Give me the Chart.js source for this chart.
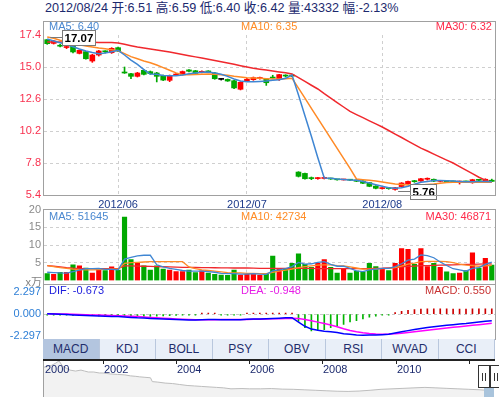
<!DOCTYPE html>
<html><head><meta charset="utf-8">
<script src="https://cdn.jsdelivr.net/npm/chart.js@4.4.1/dist/chart.umd.min.js"></script>
<style>
html,body{margin:0;padding:0;background:#fff}
body{position:relative;width:499px;height:397px;overflow:hidden;font-family:"Liberation Sans",Arial,"Noto Sans CJK SC",sans-serif}
canvas{position:absolute;left:0}
.lb{position:absolute;white-space:nowrap;font-size:11px;line-height:12px}
.fr{position:absolute;box-sizing:border-box;border:1px solid #a0a0a0;pointer-events:none}
#tabs{position:absolute;left:43px;top:339px;width:452px;height:20px;display:flex;background:#e9eff8}
#tabs div{flex:0 0 56.5px;box-sizing:border-box;border-right:1px solid #b9c7dd;text-align:center;font-size:12px;line-height:20px;color:#1f2d6b}
#tabs div.on{background:#b3c5df}
.hd{position:absolute;top:365px;height:23px;box-sizing:border-box;border:1px solid #333;background:#fff}
.hd i{position:absolute;top:7px;width:1px;height:8px;background:#333}
</style></head><body>
<div class="lb" style="left:45px;top:1px;font-size:12.6px;line-height:14px;color:#1c2a6e">2012/08/24 开:6.51 高:6.59 低:6.40 收:6.42 量:43332 幅:-2.13%</div>

<canvas id="cPrice" width="499" height="215" style="top:0"></canvas>
<canvas id="cVol" width="499" height="90" style="top:200px"></canvas>
<canvas id="cMacd" width="499" height="66" style="top:280px"></canvas>
<canvas id="cNav" width="499" height="42" style="top:355px"></canvas>

<div class="fr" style="left:43px;top:21px;width:453px;height:175px"></div>
<div class="fr" style="left:43px;top:209px;width:453px;height:76px"></div>
<div class="fr" style="left:43px;top:284px;width:453px;height:56px"></div>

<div class="lb" style="left:49px;top:20px;color:#4a88d0">MA5: 6.40</div>
<div class="lb" style="left:241px;top:20px;color:#ff8c26">MA10: 6.35</div>
<div class="lb" style="right:7px;top:20px;color:#ff2a4a">MA30: 6.32</div>

<div class="lb" style="left:49px;top:210px;color:#4a88d0">MA5: 51645</div>
<div class="lb" style="left:241px;top:210px;color:#ff8c26">MA10: 42734</div>
<div class="lb" style="right:8px;top:210px;color:#ff2a4a">MA30: 46871</div>
<div class="lb" style="right:457px;top:276px;color:#808080">x万</div>

<div class="lb" style="left:49px;top:284px;color:#1a1adc">DIF: -0.673</div>
<div class="lb" style="left:241px;top:284px;color:#e61ee6">DEA: -0.948</div>
<div class="lb" style="right:8px;top:284px;color:#c83232">MACD: 0.550</div>

<div id="tabs"><div class="on">MACD</div><div>KDJ</div><div>BOLL</div><div>PSY</div><div>OBV</div><div>RSI</div><div>WVAD</div><div>CCI</div></div>

<div style="position:absolute;left:484px;top:386px;width:10px;height:11px;background:#a9c4dc"></div>
<div class="hd" style="left:478px;width:12px"><i style="left:3px"></i><i style="left:6px"></i></div>
<div class="hd" style="left:490px;width:12px"><i style="left:3px"></i><i style="left:6px"></i></div>

<script>
const dates = [
"2012/05/17","2012/05/18","2012/05/21","2012/05/22","2012/05/23","2012/05/24","2012/05/25","2012/05/28","2012/05/29","2012/05/30","2012/05/31",
"2012/06/01","2012/06/04","2012/06/05","2012/06/06","2012/06/07","2012/06/08","2012/06/11","2012/06/12","2012/06/13","2012/06/14","2012/06/15","2012/06/18","2012/06/19","2012/06/20","2012/06/21","2012/06/25","2012/06/26","2012/06/27","2012/06/28","2012/06/29",
"2012/07/02","2012/07/03","2012/07/04","2012/07/05","2012/07/06","2012/07/09","2012/07/10","2012/07/11","2012/07/13","2012/07/16","2012/07/17","2012/07/18","2012/07/19","2012/07/20","2012/07/23","2012/07/24","2012/07/25","2012/07/26","2012/07/27","2012/07/30","2012/07/31",
"2012/08/01","2012/08/02","2012/08/03","2012/08/06","2012/08/07","2012/08/08","2012/08/09","2012/08/10","2012/08/13","2012/08/14","2012/08/15","2012/08/16","2012/08/17","2012/08/20","2012/08/21","2012/08/22","2012/08/23","2012/08/24"];

const openP = [17.05,16.77,16.62,16.46,16.58,16.02,16.15,15.45,15.90,16.17,
16.07,16.45,14.56,14.50,14.30,14.75,14.65,14.55,14.37,14.00,
14.40,14.45,14.78,14.72,14.60,14.66,14.55,14.07,14.07,13.97,
13.33,13.97,14.05,14.14,14.10,14.18,14.05,14.35,14.35,7.12,
7.02,6.67,6.63,6.64,6.63,6.57,6.53,6.53,6.52,6.45,
6.33,6.07,5.88,5.90,5.82,6.03,6.25,6.42,6.45,6.58,
6.58,6.42,6.45,6.42,6.37,6.40,6.32,6.53,6.42,6.51];
const closeP = [16.75,16.95,16.56,16.50,16.13,16.25,15.62,15.90,16.20,16.14,
16.40,16.20,14.55,14.30,14.55,14.45,14.50,14.30,14.02,14.37,
14.44,14.66,14.68,14.52,14.66,14.63,14.12,14.07,13.95,13.43,
13.85,14.08,14.20,14.18,13.82,14.17,14.43,14.32,14.32,6.80,
6.62,6.63,6.66,6.69,6.60,6.54,6.55,6.51,6.43,6.28,
6.05,5.90,5.92,5.88,5.95,6.30,6.42,6.40,6.62,6.60,
6.44,6.45,6.40,6.38,6.39,6.38,6.55,6.50,6.58,6.42];
const highP = [17.07,17.00,16.70,16.60,16.62,16.28,16.18,15.95,16.25,16.22,
16.45,16.50,15.00,14.52,14.60,14.80,14.70,14.60,14.40,14.40,
14.50,14.70,14.80,14.75,14.72,14.72,14.60,14.12,14.10,14.00,
13.90,14.15,14.25,14.25,14.12,14.38,14.45,14.42,14.42,7.15,
7.05,6.75,6.72,6.75,6.66,6.58,6.58,6.55,6.55,6.48,
6.35,6.10,5.95,5.93,5.98,6.33,6.45,6.50,6.65,6.68,
6.60,6.50,6.48,6.45,6.45,6.45,6.58,6.58,6.62,6.59];
const lowP = [16.70,16.72,16.50,16.38,16.05,15.98,15.58,15.35,15.82,16.05,
16.02,16.15,14.52,14.12,14.25,14.40,14.45,13.88,13.98,13.90,
14.35,14.40,14.64,14.48,14.55,14.58,14.08,14.02,13.92,13.38,
13.28,13.92,14.00,14.08,13.62,14.17,14.00,14.25,14.28,6.75,
6.58,6.55,6.58,6.60,6.57,6.52,6.52,6.48,6.40,6.25,
6.02,5.86,5.84,5.83,5.76,6.00,6.20,6.35,6.42,6.52,
6.40,6.38,6.37,6.35,6.22,6.33,6.28,6.45,6.38,6.40];

const ma5 = [17.10,16.95,16.82,16.68,16.52,16.35,16.20,16.08,16.00,16.05,
16.15,16.25,15.90,15.52,15.20,14.81,14.47,14.45,14.37,14.35,
14.35,14.40,14.50,14.55,14.60,14.62,14.55,14.45,14.30,14.10,
13.95,13.90,13.90,13.92,13.95,14.00,14.05,14.15,14.40,12.90,
11.35,9.80,8.20,6.68,6.65,6.60,6.57,6.53,6.50,6.42,
6.30,6.17,6.05,5.95,5.90,5.95,6.05,6.20,6.35,6.42,
6.48,6.48,6.47,6.45,6.42,6.40,6.40,6.42,6.42,6.40];
const ma10 = [17.25,17.15,17.00,16.90,16.78,16.67,16.58,16.50,16.42,16.36,
16.30,16.22,16.00,15.78,15.62,15.45,15.32,15.15,14.95,14.76,
14.56,14.42,14.42,14.43,14.45,14.48,14.45,14.42,14.38,14.30,
14.25,14.20,14.17,14.15,14.12,14.10,14.10,14.12,14.15,13.42,
12.66,11.90,11.15,10.40,9.65,8.90,8.15,7.40,6.60,6.55,
6.50,6.45,6.38,6.30,6.22,6.18,6.15,6.15,6.15,6.18,
6.22,6.28,6.33,6.35,6.35,6.35,6.35,6.35,6.35,6.35];
const ma30 = [16.88,16.88,16.87,16.87,16.86,16.86,16.85,16.85,16.84,16.84,
16.83,16.80,16.70,16.60,16.50,16.42,16.35,16.27,16.20,16.12,
16.03,15.94,15.85,15.76,15.67,15.58,15.49,15.40,15.30,15.20,
15.10,15.00,14.90,14.83,14.77,14.70,14.63,14.57,14.48,14.20,
13.92,13.63,13.35,13.00,12.67,12.33,12.00,11.67,11.43,11.20,
10.96,10.73,10.50,10.24,9.97,9.71,9.44,9.18,8.92,8.70,
8.47,8.24,8.02,7.80,7.53,7.27,7.00,6.73,6.52,6.35];

// volume in units of 10,000 shares (万)
const volume = [1.9,1.7,2.3,2.3,4.4,4.1,3.5,2.1,3.2,2.8,
3.8,2.9,17.9,5.9,4.9,4.1,2.9,4.1,3.2,2.9,
2.5,2.5,2.9,2.2,2.7,2.1,1.7,1.5,1.4,2.9,
1.5,1.7,1.8,1.4,1.7,6.9,3.3,3.3,4.8,7.5,
4.55,3.66,4.8,5.9,3.66,2.1,3.2,2.1,2.6,2.4,
4.8,3.9,3.2,2.8,4.8,9.0,8.8,4.55,9.0,3.9,
4.8,3.66,2.4,1.9,2.1,2.8,7.8,3.5,6.2,4.3332];
const volMa5 = [2.3,2.2,2.1,2.05,2.5,2.9,3.3,3.3,3.4,3.1,
3.1,3.0,6.0,6.5,6.9,7.1,7.1,4.4,3.8,3.4,
3.1,2.8,2.6,2.6,2.6,2.5,2.3,2.0,1.9,1.9,
1.8,1.8,1.9,1.75,1.7,2.7,3.0,3.3,3.9,5.1,
4.6,4.7,5.1,5.3,4.5,4.0,4.0,3.4,2.7,2.5,
3.0,3.2,3.4,3.4,3.9,4.7,5.7,6.0,7.2,7.0,
6.4,5.2,4.2,3.3,3.0,2.6,3.4,3.6,4.5,5.16];
const volMa10 = [4.2,3.9,3.6,3.4,3.2,3.05,3.0,3.0,3.05,3.1,
3.15,3.2,4.8,5.0,5.1,5.2,5.3,5.3,5.3,5.3,
5.3,5.3,3.8,3.3,3.0,2.8,2.6,2.4,2.2,2.15,
2.1,2.0,1.95,1.9,1.9,2.3,2.6,2.9,3.2,3.6,
3.9,4.1,4.3,4.4,4.4,4.2,4.1,3.8,3.5,3.2,
3.2,3.2,3.3,3.4,3.6,4.0,4.6,4.9,5.3,5.4,
5.4,5.4,5.3,5.0,4.6,4.3,4.2,4.0,4.1,4.27];
const volMa30 = [4.2,4.0,3.8,3.6,3.45,3.35,3.3,3.3,3.3,3.3,
3.3,3.3,4.1,4.1,4.05,4.0,3.95,3.9,3.85,3.8,
3.75,3.7,3.68,3.65,3.62,3.6,3.58,3.55,3.52,3.5,
3.5,3.5,3.45,3.4,3.4,3.4,3.4,3.4,3.4,3.4,
3.4,3.4,3.35,3.3,3.3,3.3,3.3,3.3,3.3,3.3,
3.35,3.4,3.45,3.55,3.65,3.8,3.95,4.05,4.15,4.2,
4.25,4.3,4.35,4.4,4.45,4.5,4.55,4.6,4.65,4.69];

const dif = [0.04,0.015,-0.01,-0.04,-0.07,-0.10,-0.125,-0.15,-0.18,-0.20,
-0.23,-0.25,-0.29,-0.335,-0.375,-0.40,-0.44,-0.47,-0.50,-0.525,
-0.55,-0.57,-0.59,-0.595,-0.565,-0.555,-0.56,-0.57,-0.57,-0.575,
-0.565,-0.525,-0.505,-0.49,-0.465,-0.44,-0.41,-0.38,-0.36,-0.825,
-1.25,-1.54,-1.67,-1.77,-1.82,-1.90,-2.03,-2.08,-2.16,-2.17,
-2.16,-2.15,-2.12,-2.085,-1.95,-1.82,-1.70,-1.58,-1.48,-1.385,
-1.30,-1.225,-1.155,-1.09,-1.02,-0.955,-0.875,-0.805,-0.735,-0.673];
const dea = [0.05,0.04,0.03,0.01,-0.01,-0.03,-0.05,-0.07,-0.09,-0.11,
-0.13,-0.15,-0.18,-0.21,-0.25,-0.29,-0.33,-0.37,-0.41,-0.45,
-0.49,-0.52,-0.55,-0.57,-0.58,-0.58,-0.57,-0.56,-0.55,-0.55,
-0.55,-0.54,-0.53,-0.52,-0.50,-0.48,-0.46,-0.44,-0.42,-0.45,
-0.55,-0.68,-0.82,-0.97,-1.12,-1.30,-1.50,-1.68,-1.82,-1.93,
-2.00,-2.05,-2.07,-2.06,-2.03,-1.97,-1.90,-1.82,-1.74,-1.66,
-1.58,-1.50,-1.43,-1.36,-1.29,-1.22,-1.15,-1.08,-1.01,-0.948];
const macdHist = [-0.02,-0.05,-0.08,-0.10,-0.12,-0.14,-0.15,-0.16,-0.18,-0.18,
-0.20,-0.20,-0.22,-0.25,-0.25,-0.22,-0.22,-0.20,-0.18,-0.15,
-0.12,-0.10,-0.08,-0.05,0.03,0.05,0.02,-0.02,-0.04,-0.05,
-0.03,0.03,0.05,0.06,0.07,0.08,0.10,0.12,0.12,-0.75,
-1.40,-1.72,-1.70,-1.60,-1.40,-1.20,-1.07,-0.80,-0.68,-0.48,
-0.32,-0.20,-0.10,-0.05,0.16,0.30,0.40,0.48,0.52,0.55,
0.56,0.55,0.55,0.54,0.54,0.53,0.55,0.55,0.55,0.55];

const priceTicks = [5.4, 7.8, 10.2, 12.6, 15.0, 17.4];
const volTicks = [5, 10, 15, 20];
const macdTicks = [-2.297, 0, 2.297];

// long-history navigator (relative price level)
const navYears = [2000.39,2000.5,2000.6,2000.7,2000.8,2000.9,2001.0,2001.1,2001.25,2001.4,2001.5,2001.6,2001.75,2001.9,2002.0,2002.2,2002.4,2002.6,2002.75,2002.9,2003.0,2003.15,2003.3,2003.35,2003.5,2003.7,2003.9,2004.1,2004.3,2004.5,2004.7,2004.9,2005.1,2005.3,2005.5,2005.8,2006.0,2006.3,2006.6,2006.9,2007.2,2007.5,2007.8,2008.1,2008.4,2008.7,2009.0,2009.3,2009.6,2009.9,2010.2,2010.5,2010.8,2011.1,2011.4,2011.7,2012.0,2012.3,2012.5,2012.66];
const navValues = [29,30,31,33,35.5,30,28,26,25,26,25,24,24,23,23,22,21.5,21,20,19.5,19,18.5,18,14,13.5,12.5,12,11,10,9.5,9,8.5,8,7.5,6.5,6.8,6.5,6.5,6.8,6.2,6.0,5.5,5.0,4.5,4.0,3.8,4.2,5.0,6.0,6.5,7.0,7.5,8.0,7.5,7.0,6.5,6.0,5.5,5.0,4.5];
const navTickYears = [2002, 2004, 2006, 2008, 2010, 2012];
const navLabels = ["2000", "2002", "2004", "2006", "2008", "2010"];

const UP = '#ff0000', DOWN = '#00a800', FLAT = '#000000';
const candleColor = openP.map((o, i) => closeP[i] > o ? UP : (closeP[i] < o ? DOWN : FLAT));
const volColor = openP.map((o, i) => closeP[i] > o ? UP : DOWN);
const monthIdx = dates.map((d, i) => i > 0 && d.slice(5, 7) !== dates[i - 1].slice(5, 7) ? i : -1).filter(i => i >= 0);

Chart.defaults.font.family = '"Liberation Sans", Arial, sans-serif';
Chart.defaults.font.size = 11;
Chart.defaults.animation = false;
Chart.defaults.responsive = false;
Chart.defaults.events = [];
Chart.defaults.plugins.legend.display = false;
Chart.defaults.plugins.tooltip.enabled = false;

const clear = 'rgba(0,0,0,0)';
const monthGrid = {offset: false, drawTicks: false, color: c => monthIdx.includes(c.index) ? '#cfcfcf' : clear};
const lineDs = (data, color, order, w) => ({type: 'line', data, borderColor: color, borderWidth: w || 1.5, pointRadius: 0, tension: 0, order});

const extremaPlugin = {
  id: 'extrema',
  afterDatasetsDraw(chart) {
    const ctx = chart.ctx, xs = chart.scales.x, ys = chart.scales.y;
    let hi = 0, lo = 0;
    highP.forEach((v, i) => { if (v > highP[hi]) hi = i; });
    lowP.forEach((v, i) => { if (v < lowP[lo]) lo = i; });
    const draw = (i, v, dy) => {
      const cx = xs.getPixelForValue(i), cy = Math.round(ys.getPixelForValue(v) + dy);
      ctx.save();
      ctx.font = 'bold 11.5px "Liberation Sans", Arial';
      const txt = v.toFixed(2);
      const w = Math.round(ctx.measureText(txt).width + 4), h = 15;
      const bx = Math.round(cx + 15) + 0.5, by = Math.round(cy - h / 2) + 0.5;
      ctx.strokeStyle = '#7a7a7a'; ctx.lineWidth = 1;
      ctx.beginPath(); ctx.moveTo(cx + 3, cy + 0.5); ctx.lineTo(bx, cy + 0.5); ctx.stroke();
      ctx.fillStyle = '#fff'; ctx.fillRect(bx, by, w, h); ctx.strokeRect(bx, by, w, h);
      ctx.fillStyle = '#000'; ctx.textBaseline = 'middle'; ctx.textAlign = 'left';
      ctx.fillText(txt, bx + 2, by + h / 2 + 0.5);
      ctx.restore();
    };
    draw(hi, highP[hi], -2);
    draw(lo, lowP[lo], 1);
  }
};

new Chart(document.getElementById('cPrice'), {
  type: 'bar',
  data: {labels: dates, datasets: [
    lineDs(ma5, '#3f86d3', 0),
    lineDs(ma10, '#ff8a26', 1),
    lineDs(ma30, '#f0282d', 2),
    {data: openP.map((o, i) => [o, closeP[i]]), backgroundColor: candleColor, barThickness: 5, minBarLength: 1, grouped: false, order: 5},
    {data: lowP.map((l, i) => [l, highP[i]]), backgroundColor: candleColor, barThickness: 1, grouped: false, order: 6}
  ]},
  options: {
    layout: {padding: {top: 35, right: 4, left: 0, bottom: 0}},
    scales: {
      x: {grid: monthGrid, border: {display: false, dash: [3, 3]},
          ticks: {autoSkip: false, maxRotation: 0, minRotation: 0, padding: 3, color: '#1c3a8a', font: {size: 11},
                  callback: (v, i) => monthIdx.includes(i) ? dates[i].slice(0, 7) : ''},
          afterFit: s => { s.height = 20; }},
      y: {min: 5.4, max: 17.4,
          afterBuildTicks: s => { s.ticks = priceTicks.map(v => ({value: v})); },
          afterFit: s => { s.width = 44; },
          ticks: {padding: 3, color: '#f8304e', callback: v => Number(v).toFixed(1)},
          grid: {drawTicks: false, color: c => (c.tick && (c.tick.value === 17.4 || c.tick.value === 5.4)) ? clear : '#cfcfcf'},
          border: {display: false, dash: [3, 3]}}
    }
  },
  plugins: [extremaPlugin]
});

new Chart(document.getElementById('cVol'), {
  type: 'bar',
  data: {labels: dates, datasets: [
    lineDs(volMa5, '#3f86d3', 0, 1.3),
    lineDs(volMa10, '#ff8a26', 1, 1.3),
    lineDs(volMa30, '#f0282d', 2, 1.3),
    {data: volume, backgroundColor: volColor, barThickness: 4.5, order: 5}
  ]},
  options: {
    layout: {padding: {top: 9, right: 4, left: 0, bottom: 6}},
    scales: {
      x: {grid: monthGrid, border: {display: false, dash: [3, 3]}, ticks: {display: false}, afterFit: s => { s.height = 0; }},
      y: {min: 0, max: 20,
          afterBuildTicks: s => { s.ticks = volTicks.map(v => ({value: v})); },
          afterFit: s => { s.width = 44; },
          ticks: {padding: 3, color: '#8a8a8a'},
          grid: {drawTicks: false, color: c => (c.tick && c.tick.value === 20) ? clear : '#cfcfcf'},
          border: {display: false, dash: [3, 3]}}
    }
  }
});

new Chart(document.getElementById('cMacd'), {
  type: 'bar',
  data: {labels: dates, datasets: [
    lineDs(dif, '#0000ff', 0, 1.5),
    lineDs(dea, '#ff00ff', 1, 1.5),
    {data: macdHist, backgroundColor: macdHist.map(v => v >= 0 ? '#cc0000' : '#00b400'), barThickness: 1, minBarLength: 1, order: 5}
  ]},
  options: {
    layout: {padding: {top: 12, right: 4, left: 0, bottom: 7}},
    scales: {
      x: {grid: {display: false}, border: {display: false}, ticks: {display: false}, afterFit: s => { s.height = 0; }},
      y: {min: -2.297, max: 2.297,
          afterBuildTicks: s => { s.ticks = macdTicks.map(v => ({value: v})); },
          afterFit: s => { s.width = 44; },
          ticks: {padding: 3, color: '#2e7fd6', callback: v => Number(v).toFixed(3)},
          grid: {drawTicks: false, color: c => (c.tick && c.tick.value === 0) ? '#c8c8c8' : clear},
          border: {display: false, dash: [3, 3]}}
    }
  }
});

const navAxis = {
  id: 'navAxis',
  afterDraw(c) {
    const ctx = c.ctx, xs = c.scales.x, a = c.chartArea;
    ctx.save();
    ctx.fillStyle = '#a0a0a0';
    ctx.fillRect(43, a.top, 1, 42);
    ctx.fillStyle = '#222';
    ctx.fillRect(43, a.top - 1, 452, 2);
    navTickYears.forEach(yr => { ctx.fillRect(Math.round(xs.getPixelForValue(yr)), a.top, 1, 4); });
    ctx.font = '11px "Liberation Sans", Arial';
    ctx.fillStyle = '#1c2a6e'; ctx.textBaseline = 'middle'; ctx.textAlign = 'left';
    navLabels.forEach((lab, i) => {
      const px = i === 0 ? xs.getPixelForValue(navYears[0]) + 1 : xs.getPixelForValue(Number(lab)) + 1;
      ctx.fillText(lab, Math.round(px), a.top + 10);
    });
    ctx.restore();
  }
};

new Chart(document.getElementById('cNav'), {
  type: 'line',
  data: {datasets: [{data: navYears.map((y, i) => ({x: y, y: navValues[i]})), borderColor: '#bdbdbd', borderWidth: 1,
                     backgroundColor: '#f2f2f2', fill: 'start', pointRadius: 0, tension: 0}]},
  options: {
    layout: {padding: {top: 5, right: 6, left: 44, bottom: 0}},
    scales: {
      x: {type: 'linear', min: 2000.39, max: 2012.66, display: false},
      y: {min: -2, max: 36.5, display: false}
    }
  },
  plugins: [navAxis]
});
</script>
</body></html>
